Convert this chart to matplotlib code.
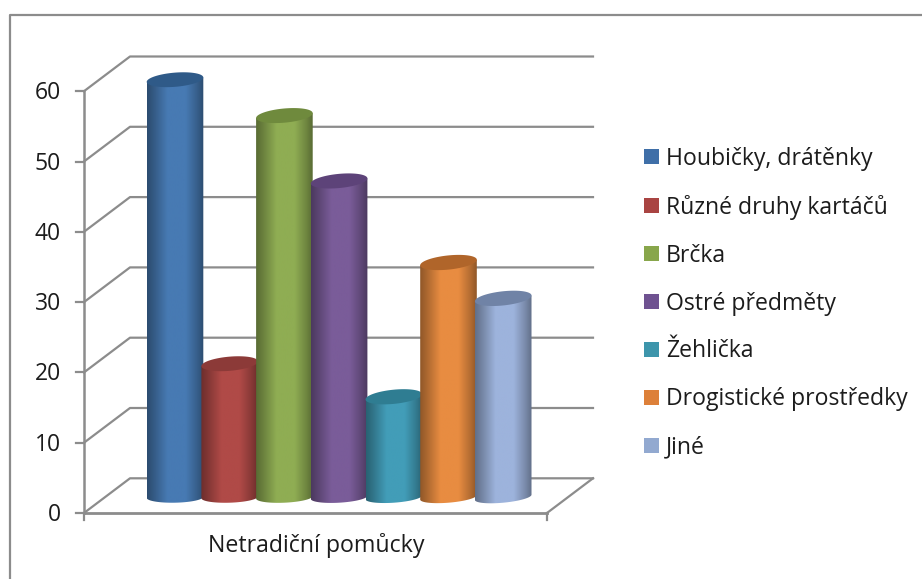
import matplotlib
matplotlib.use("Agg")
import matplotlib.pyplot as plt
import numpy as np
from matplotlib.lines import Line2D
from matplotlib.patches import Patch, Polygon

plt.rcParams['font.family'] = ['Open Sans', 'DejaVu Sans']

labels = ["Houbičky, drátěnky", "Různé druhy kartáčů", "Brčka", "Ostré předměty",
          "Žehlička", "Drogistické prostředky", "Jiné"]
values = [59.4, 19, 54.3, 45, 14.3, 33.4, 28.3]
y_ticks = [0, 10, 20, 30, 40, 50, 60]
category = "Netradiční pomůcky"

side_colors = ["#477ab3", "#b04a47", "#8fad53", "#7a5c99", "#429db8", "#e88c41", "#9db3dc"]
top_colors = ["#2f5a88", "#8c3a38", "#6f8a3d", "#5d4379", "#2f7d92", "#b0652a", "#7083a6"]
legend_colors = ["#3f6fa8", "#a94442", "#88a64b", "#6f5291", "#3d95ab", "#dd8039", "#92a9d0"]
grid_color = "#8c8c8c"
text_color = "#1c1c1c"

W, H = 922, 579
x_px = 54.7   # pixels per bar slot
y_px = 7.03   # pixels per value unit

fig = plt.figure(figsize=(W / 100, H / 100), dpi=100)
ax = fig.add_axes([0, 0, 1, 1])
ax.set_xlim((0 - 175) / x_px, (W - 175) / x_px)
ax.set_ylim((513 - H) / y_px, 513 / y_px)
ax.autoscale(False)
ax.set_axis_off()

# wall and floor geometry, data units
x_left = (84 - 175) / x_px
x_right = (547 - 175) / x_px
dx = 46 / x_px
dy = 34.7 / y_px
base = 15.7 / y_px  # cylinders stand mid depth
half_w = 28.3 / x_px

# outer frame, only top and left are inside the picture
fig.add_artist(Line2D([10 / W, 10 / W, 1], [0, 1 - 15 / H, 1 - 15 / H],
                      color=grid_color, lw=1.6, transform=fig.transFigure))

for t in y_ticks:
    ax.plot([x_left, x_left + dx, x_right + dx], [t, t + dy, t + dy], color=grid_color, lw=1.6, zorder=1)
    ax.plot([x_left - 8 / x_px, x_left], [t, t], color=grid_color, lw=1.6, zorder=1)
    ax.text(x_left - 23 / x_px, t - 2 / y_px, str(t), ha='right', va='center',
            fontsize=16.5, color=text_color)

ax.plot([x_left, x_left], [0, y_ticks[-1]], color=grid_color, lw=1.8, zorder=1)
ax.plot([x_left, x_right], [0, 0], color=grid_color, lw=2, zorder=1)
ax.plot([x_right, x_right + dx], [0, dy], color=grid_color, lw=1.6, zorder=1)
for x in [x_left, x_right]:
    ax.plot([x, x], [0, -7 / y_px], color=grid_color, lw=1.6, zorder=1)

# cylinders, later ones overlap earlier ones
shade = np.interp(np.linspace(0, 1, 200), [0, 0.12, 0.36, 0.68, 0.88, 1], [0.62, 0.74, 1, 1, 0.78, 0.62])
t = np.linspace(0, 2 * np.pi, 120)
for i, v in enumerate(values):
    rgb = np.array(matplotlib.colors.to_rgb(side_colors[i]))
    grad = (shade[:, None] * rgb)[None, :, :]

    k_top = 0.078 + 0.004 * i
    k_bot = 0.02 + 0.012 * i
    top_y = v + base
    lower = t[60:]  # pi to 2pi, the front of the base
    xs = np.concatenate([[i - half_w], i + half_w * np.cos(lower), [i + half_w]])
    ys = np.concatenate([[top_y - k_top * 28.3 / y_px],
                         base + (5.4 * np.sin(lower) + k_bot * 28.3 * np.cos(lower)) / y_px,
                         [top_y + k_top * 28.3 / y_px]])
    body = Polygon(np.column_stack([xs, ys]), closed=True, fc='none', ec='none', zorder=2 + i)
    ax.add_patch(body)
    im = ax.imshow(grad, extent=[i - half_w, i + half_w, base - 10 / y_px, top_y + 10 / y_px],
                   aspect='auto', zorder=2 + i, interpolation='bilinear')
    im.set_clip_path(body)

    cap_x = i + half_w * np.cos(t)
    cap_y = top_y + (7.1 * np.sin(t) + k_top * 28.3 * np.cos(t)) / y_px
    ax.add_patch(Polygon(np.column_stack([cap_x, cap_y]), closed=True, fc=top_colors[i], ec='none', zorder=2 + i))

ax.text((316 - 175) / x_px, (513 - 546) / y_px, category, ha='center', va='center',
        fontsize=16.7, color=text_color)

handles = [Patch(fc=c, ec='none') for c in legend_colors]
ax.legend(handles, labels, loc='center left', bbox_to_anchor=(644 / W, 1 - 303 / H),
          bbox_transform=fig.transFigure, frameon=False, fontsize=16.6, labelcolor=text_color,
          handlelength=0.65, handleheight=0.65, handletextpad=0.3, labelspacing=1.04,
          borderpad=0, borderaxespad=0)

fig.savefig("out.png", dpi=100)
